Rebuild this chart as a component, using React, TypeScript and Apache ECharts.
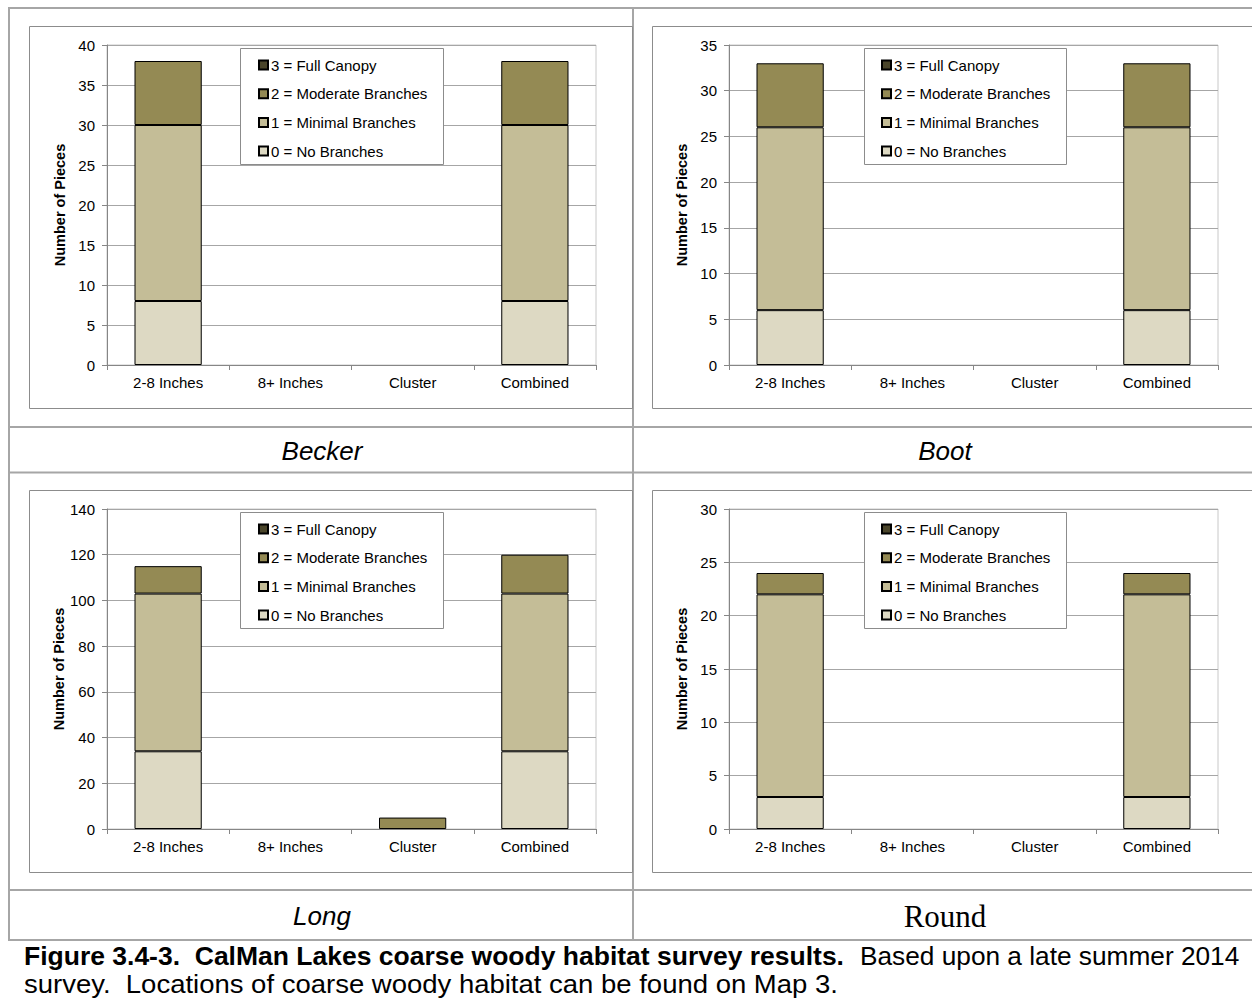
import React, { useEffect, useRef } from "react";
import * as echarts from "echarts";

const categories = ["2-8 Inches", "8+ Inches", "Cluster", "Combined"];
const legendNames = ["3 = Full Canopy", "2 = Moderate Branches", "1 = Minimal Branches", "0 = No Branches"];
const seriesNames = ["0 = No Branches", "1 = Minimal Branches", "2 = Moderate Branches", "3 = Full Canopy"];
const seriesColors = ["#DDD9C3", "#C4BD97", "#948A54", "#4A452A"];

const lakeNames = ["Becker", "Boot", "Long", "Round"];

const beckerNo = [8, 0, 0, 8];
const beckerMin = [22, 0, 0, 22];
const beckerMod = [8, 0, 0, 8];
const beckerFull = [0, 0, 0, 0];

const bootNo = [6, 0, 0, 6];
const bootMin = [20, 0, 0, 20];
const bootMod = [7, 0, 0, 7];
const bootFull = [0, 0, 0, 0];

const longNo = [34, 0, 0, 34];
const longMin = [69, 0, 0, 69];
const longMod = [12, 0, 5, 17];
const longFull = [0, 0, 0, 0];

const roundNo = [3, 0, 0, 3];
const roundMin = [19, 0, 0, 19];
const roundMod = [2, 0, 0, 2];
const roundFull = [0, 0, 0, 0];

const yMaxes = [40, 35, 140, 30];
const yIntervals = [5, 5, 20, 5];

const captionBold = "Figure 3.4-3.  CalMan Lakes coarse woody habitat survey results.";
const captionRest1 = "Based upon a late summer 2014";
const captionLine2 = "survey.  Locations of coarse woody habitat can be found on Map 3.";

const lakeData = [
  [beckerNo, beckerMin, beckerMod, beckerFull],
  [bootNo, bootMin, bootMod, bootFull],
  [longNo, longMin, longMod, longFull],
  [roundNo, roundMin, roundMod, roundFull],
];

const SANS = "'Liberation Sans', Arial, Helvetica, sans-serif";

export default function App() {
  const ref = useRef<HTMLDivElement>(null);
  useEffect(() => {
    if (!ref.current) return;
    const chart = echarts.init(ref.current, undefined, { renderer: "svg" });

    const gridPos = [
      { left: 107, top: 45 },
      { left: 729, top: 45 },
      { left: 107, top: 509 },
      { left: 729, top: 509 },
    ];

    const grids = gridPos.map((p) => ({
      left: p.left,
      top: p.top,
      width: 489,
      height: 320,
      show: true,
      borderColor: "#c8c8c8",
      borderWidth: 1,
      backgroundColor: "transparent",
    }));

    const xAxes = gridPos.map((_, i) => ({
      type: "category",
      gridIndex: i,
      data: categories,
      axisLine: { show: true, lineStyle: { color: "#868686", width: 1 } },
      axisTick: { show: true, length: 5, alignWithLabel: false, lineStyle: { color: "#868686" } },
      axisLabel: { color: "#000", fontSize: 15, fontFamily: SANS, margin: 10 },
      splitLine: { show: false },
    }));

    const yAxes = gridPos.map((_, i) => ({
      type: "value",
      gridIndex: i,
      min: 0,
      max: yMaxes[i],
      interval: yIntervals[i],
      name: "Number of Pieces",
      nameLocation: "middle",
      nameRotate: 90,
      nameGap: 40,
      nameTextStyle: { color: "#000", fontSize: 14.5, fontWeight: "bold", fontFamily: SANS },
      axisLine: { show: true, lineStyle: { color: "#868686", width: 1 } },
      axisTick: { show: true, length: 5, lineStyle: { color: "#868686" } },
      axisLabel: { color: "#000", fontSize: 15, fontFamily: SANS, margin: 12 },
      splitLine: { show: true, lineStyle: { color: "#a6a6a6", width: 1 } },
    }));

    const series: any[] = [];
    lakeData.forEach((stacks, gi) => {
      stacks.forEach((vals, si) => {
        series.push({
          type: "bar",
          name: seriesNames[si],
          xAxisIndex: gi,
          yAxisIndex: gi,
          stack: "s" + gi,
          barCategoryGap: "45%",
          data: vals.map((v) => (v === 0 ? null : v)),
          itemStyle: { color: seriesColors[si], borderColor: "#000", borderWidth: 1 },
          emphasis: { disabled: true },
        });
      });
    });

    const legendPos = [
      { left: 258, top: 57 },
      { left: 881, top: 57 },
      { left: 258, top: 521 },
      { left: 881, top: 521 },
    ];
    const legends = legendPos.map((p) => ({
      show: true,
      orient: "vertical",
      left: p.left,
      top: p.top,
      padding: 0,
      itemGap: 12.7,
      itemWidth: 9,
      itemHeight: 9,
      icon: "rect",
      selectedMode: false,
      data: legendNames,
      textStyle: { color: "#000", fontSize: 15, fontFamily: SANS, lineHeight: 16, padding: [0, 0, 0, -2] },
    }));

    const tableLine = { stroke: "#a6a6a6", lineWidth: 2 };
    const frameStyle = { stroke: "#8c8c8c", lineWidth: 1, fill: "transparent" };
    const boxStyle = { fill: "#fff", stroke: "#8c8c8c", lineWidth: 1 };
    const graphic: any[] = [
      // table lines
      { type: "line", shape: { x1: 9, y1: 8, x2: 1252, y2: 8 }, style: tableLine },
      { type: "line", shape: { x1: 9, y1: 7, x2: 9, y2: 941 }, style: tableLine },
      { type: "line", shape: { x1: 633, y1: 7, x2: 633, y2: 941 }, style: tableLine },
      { type: "line", shape: { x1: 9, y1: 427, x2: 1252, y2: 427 }, style: tableLine },
      { type: "line", shape: { x1: 9, y1: 472.5, x2: 1252, y2: 472.5 }, style: tableLine },
      { type: "line", shape: { x1: 9, y1: 890, x2: 1252, y2: 890 }, style: tableLine },
      { type: "line", shape: { x1: 9, y1: 940, x2: 1252, y2: 940 }, style: tableLine },
      // chart frames
      { type: "rect", shape: { x: 29.5, y: 26.5, width: 603, height: 382 }, style: frameStyle },
      { type: "rect", shape: { x: 652.5, y: 26.5, width: 620, height: 382 }, style: frameStyle },
      { type: "rect", shape: { x: 29.5, y: 490.5, width: 603, height: 382 }, style: frameStyle },
      { type: "rect", shape: { x: 652.5, y: 490.5, width: 620, height: 382 }, style: frameStyle },
      // legend boxes
      { type: "rect", z: 3, shape: { x: 240.5, y: 48.5, width: 203, height: 116 }, style: boxStyle },
      { type: "rect", z: 3, shape: { x: 864.5, y: 48.5, width: 202, height: 116 }, style: boxStyle },
      { type: "rect", z: 3, shape: { x: 240.5, y: 512.5, width: 203, height: 116 }, style: boxStyle },
      { type: "rect", z: 3, shape: { x: 864.5, y: 512.5, width: 202, height: 116 }, style: boxStyle },
      // lake labels
      { type: "text", x: 322, y: 451, style: { text: lakeNames[0], fill: "#000", fontSize: 26, fontStyle: "italic", fontFamily: SANS, align: "center", verticalAlign: "middle" } },
      { type: "text", x: 945, y: 451, style: { text: lakeNames[1], fill: "#000", fontSize: 26, fontStyle: "italic", fontFamily: SANS, align: "center", verticalAlign: "middle" } },
      { type: "text", x: 322, y: 916, style: { text: lakeNames[2], fill: "#000", fontSize: 26, fontStyle: "italic", fontFamily: SANS, align: "center", verticalAlign: "middle" } },
      { type: "text", x: 945, y: 916, style: { text: lakeNames[3], fill: "#000", fontSize: 31, fontFamily: "'Liberation Serif', 'Times New Roman', serif", align: "center", verticalAlign: "middle" } },
      // caption
      { type: "text", x: 24, y: 956, scaleX: 1.06, style: { text: captionBold, fill: "#000", fontSize: 25, fontWeight: "bold", fontFamily: SANS, align: "left", verticalAlign: "middle" } },
      { type: "text", x: 860, y: 956, scaleX: 1.05, style: { text: captionRest1, fill: "#000", fontSize: 25, fontFamily: SANS, align: "left", verticalAlign: "middle" } },
      { type: "text", x: 24, y: 984, scaleX: 1.1, style: { text: captionLine2, fill: "#000", fontSize: 25, fontFamily: SANS, align: "left", verticalAlign: "middle" } },
    ];

    chart.setOption({
      animation: false,
      backgroundColor: "#fff",
      grid: grids,
      xAxis: xAxes,
      yAxis: yAxes,
      legend: legends,
      series,
      graphic,
    });
    return () => chart.dispose();
  }, []);

  return (
    <div
      ref={ref}
      style={{ position: "fixed", left: 0, top: 0, width: 1252, height: 998, background: "#fff" }}
    />
  );
}
